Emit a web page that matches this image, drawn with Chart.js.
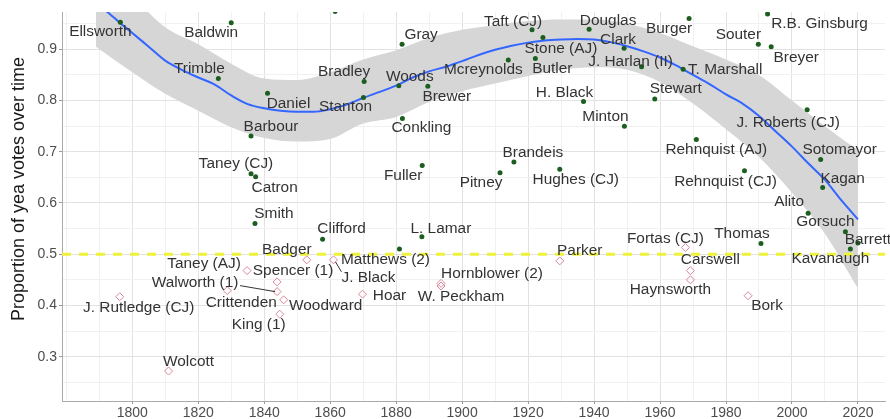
<!DOCTYPE html>
<html>
<head>
<meta charset="utf-8">
<script src="https://cdn.jsdelivr.net/npm/chart.js@4.4.1/dist/chart.umd.min.js"></script>
<style>
  html, body { margin: 0; padding: 0; background: #fff; }
  #wrap { width: 890px; height: 419px; }
</style>
</head>
<body>
<div id="wrap"><canvas id="chart"></canvas></div>
<script>
// confirmed nominees (green dots)
const confirmedNames = ['Ellsworth', 'Baldwin', 'Trimble', 'Daniel', 'Barbour', 'Taney (CJ)', 'Catron', 'Smith',
  'Clifford', '', 'Stanton', 'Bradley', 'Woods', 'Matthews (2)', 'Gray', 'Conkling', 'Fuller', 'L. Lamar', 'Brewer',
  'Pitney', 'Mcreynolds', 'Brandeis', 'Taft (CJ)', 'Butler', 'Stone (AJ)', 'Hughes (CJ)', 'H. Black', 'Douglas',
  'Clark', 'Minton', 'J. Harlan (II)', 'Stewart', 'T. Marshall', 'Burger', 'Rehnquist (AJ)', 'Rehnquist (CJ)',
  'Souter', 'Thomas', 'R.B. Ginsburg', 'Breyer', 'J. Roberts (CJ)', 'Alito', 'Sotomayor', 'Kagan', 'Gorsuch',
  'Barrett', 'Kavanaugh'];
const confirmedYears = [1796.4, 1830.0, 1826.1, 1841.0, 1836.0, 1836.0, 1837.4, 1837.2,
  1857.7, 1861.5, 1870.1, 1870.3, 1880.8, 1881.0, 1881.8, 1881.9, 1887.9, 1887.8, 1889.6,
  1911.5, 1914.0, 1915.7, 1921.2, 1922.2, 1924.5, 1929.6, 1936.8, 1938.5,
  1949.1, 1949.2, 1954.4, 1958.4, 1967.0, 1968.8, 1971.0, 1985.6,
  1989.8, 1990.6, 1992.6, 1993.7, 2004.6, 2004.9, 2008.7, 2009.3, 2016.2,
  2020.0, 2017.7];
const confirmedVotes = [0.953, 0.952, 0.843, 0.814, 0.731, 0.657, 0.651, 0.560,
  0.529, 0.974, 0.806, 0.837, 0.829, 0.510, 0.910, 0.765, 0.673, 0.534, 0.828,
  0.659, 0.879, 0.680, 0.938, 0.882, 0.923, 0.666, 0.798, 0.939,
  0.902, 0.750, 0.866, 0.803, 0.861, 0.960, 0.724, 0.663,
  0.910, 0.521, 0.969, 0.905, 0.782, 0.580, 0.685, 0.630, 0.544,
  0.522, 0.510];

// rejected / failed nominees (pink diamonds)
const rejectedNames = ['J. Rutledge (CJ)', 'Wolcott', 'Crittenden', 'Taney (AJ)', 'Spencer (1)', 'Walworth (1)',
  'King (1)', 'Woodward', 'Badger', 'J. Black', 'Hoar', 'Hornblower (2)', 'W. Peckham', 'Parker', 'Fortas (CJ)',
  'Haynsworth', 'Carswell', 'Bork'];
const rejectedYears = [1796.2, 1811.0, 1828.8, 1834.8, 1843.9, 1843.9,
  1844.7, 1845.9, 1852.9, 1861.0, 1869.8, 1893.6, 1893.6, 1929.6, 1967.7,
  1969.2, 1969.2, 1986.7];
const rejectedVotes = [0.417, 0.272, 0.429, 0.468, 0.446, 0.427,
  0.383, 0.411, 0.489, 0.489, 0.422, 0.443, 0.438, 0.487, 0.513,
  0.450, 0.468, 0.419];

// smoothed trend and its confidence band
const fitYears = [1789, 1793, 1796, 1800, 1805, 1810, 1815, 1820, 1825, 1830, 1835, 1840, 1845, 1850, 1855,
  1860, 1865, 1870, 1875, 1880, 1885, 1890, 1895, 1900, 1905, 1910, 1915, 1920, 1925, 1930, 1935, 1940,
  1945, 1950, 1955, 1960, 1965, 1970, 1975, 1980, 1985, 1990, 1995, 2000, 2005, 2010, 2015, 2020];
const fitValues = [0.990, 0.970, 0.953, 0.932, 0.905, 0.878, 0.860, 0.845, 0.831, 0.810, 0.793, 0.785, 0.780,
  0.778, 0.778, 0.783, 0.792, 0.805, 0.817, 0.829, 0.845, 0.857, 0.866, 0.877, 0.889, 0.899, 0.907, 0.913,
  0.917, 0.919, 0.920, 0.919, 0.914, 0.906, 0.896, 0.884, 0.868, 0.850, 0.832, 0.812, 0.794, 0.770, 0.740,
  0.710, 0.677, 0.645, 0.605, 0.568];
const bandYears = [1789, 1800, 1810, 1820, 1830, 1840, 1850, 1860, 1870, 1880, 1890, 1900, 1910, 1920, 1930,
  1940, 1950, 1960, 1970, 1980, 1990, 2000, 2010, 2020];
const bandLow = [0.905, 0.855, 0.813, 0.780, 0.748, 0.727, 0.720, 0.725, 0.755, 0.768, 0.797, 0.818, 0.833,
  0.848, 0.860, 0.865, 0.860, 0.836, 0.794, 0.744, 0.690, 0.620, 0.540, 0.433];
const bandHigh = [1.075, 1.004, 0.943, 0.910, 0.872, 0.843, 0.840, 0.855, 0.880, 0.898, 0.922, 0.938, 0.947,
  0.955, 0.958, 0.958, 0.950, 0.932, 0.906, 0.880, 0.850, 0.800, 0.750, 0.703];

const threshold = 0.5;

// axes
const xRange = [1778.7, 2028.2];
const yRange = [0.2135, 0.9728];
const xGridYears = [1780, 1790, 1800, 1810, 1820, 1830, 1840, 1850, 1860, 1870, 1880, 1890, 1900, 1910, 1920,
  1930, 1940, 1950, 1960, 1970, 1980, 1990, 2000, 2010, 2020];
const xTickYears = [1800, 1820, 1840, 1860, 1880, 1900, 1920, 1940, 1960, 1980, 2000, 2020];
const yGridValues = [0.25, 0.3, 0.35, 0.4, 0.45, 0.5, 0.55, 0.6, 0.65, 0.7, 0.75, 0.8, 0.85, 0.9, 0.95];
const yTickValues = [0.3, 0.4, 0.5, 0.6, 0.7, 0.8, 0.9];

// where each name sits relative to its point (px)
const labelOffsets = {
  'Ellsworth': [-20, 10], 'Baldwin': [-20, 10], 'Trimble': [-19, -9], 'Daniel': [21, 11],
  'Barbour': [20, -9], 'Taney (CJ)': [-15, -10], 'Catron': [19, 11], 'Smith': [19, -9],
  'Clifford': [19, -10], 'Stanton': [-18, 10], 'Bradley': [-20, -9], 'Woods': [11, -9],
  'Matthews (2)': [-14, 11], 'Gray': [19, -9], 'Conkling': [19, 10], 'Fuller': [-19, 11],
  'L. Lamar': [19, -8], 'Brewer': [19, 11], 'Pitney': [-19, 10], 'Mcreynolds': [-25, 10],
  'Brandeis': [19, -9], 'Taft (CJ)': [-19, -8], 'Butler': [17, 11], 'Stone (AJ)': [18, 12],
  'Hughes (CJ)': [16, 11], 'H. Black': [-19, -8], 'Douglas': [19, -8], 'Clark': [-6, -8],
  'Minton': [-19, -9], 'J. Harlan (II)': [-11, -5], 'Stewart': [21, -10], 'T. Marshall': [42, 1],
  'Burger': [-20, 11], 'Rehnquist (AJ)': [20, 11], 'Rehnquist (CJ)': [-19, 11], 'Souter': [-20, -9],
  'Thomas': [-19, -9], 'R.B. Ginsburg': [52, 10], 'Breyer': [25, 11], 'J. Roberts (CJ)': [-19, 13],
  'Alito': [-19, -11], 'Sotomayor': [19, -9], 'Kagan': [20, -8], 'Gorsuch': [-20, -10],
  'Barrett': [10, -3], 'Kavanaugh': [-20, 10],
  'J. Rutledge (CJ)': [19, 11], 'Wolcott': [20, -9], 'Crittenden': [14, 13], 'Taney (AJ)': [-43, -6],
  'Spencer (1)': [16, -11], 'Walworth (1)': [-82, -8], 'King (1)': [-21, 11], 'Woodward': [42, 6],
  'Badger': [-20, -10], 'J. Black': [35, 18], 'Hoar': [27, 2], 'Hornblower (2)': [51, -9],
  'W. Peckham': [20, 11], 'Parker': [20, -10], 'Fortas (CJ)': [-20, -8], 'Haynsworth': [-20, 10],
  'Carswell': [20, -10], 'Bork': [19, 10]
};
// short connector segments (from, to) relative to the point
const leaders = {
  'Walworth (1)': [-37, -6, -2, 0],
  'J. Black': [8, 12, 2, 2]
};

const toPoints = (xs, ys) => xs.map((v, i) => ({ x: v, y: ys[i] }));

const labelPlugin = {
  id: 'nomineeLabels',
  afterDatasetsDraw(chart) {
    const { ctx, scales: { x, y } } = chart;
    ctx.save();
    ctx.font = '14px "Liberation Sans", Arial, sans-serif';
    ctx.fillStyle = '#333';
    ctx.strokeStyle = '#333';
    ctx.lineWidth = 1;
    ctx.textAlign = 'center';
    ctx.textBaseline = 'middle';
    const draw = (names, years, votes) => {
      names.forEach((name, i) => {
        if (!name) return;
        const px = x.getPixelForValue(years[i]);
        const py = y.getPixelForValue(votes[i]);
        const off = labelOffsets[name] || [0, -10];
        const lead = leaders[name];
        if (lead) {
          ctx.beginPath();
          ctx.moveTo(px + lead[0], py + lead[1]);
          ctx.lineTo(px + lead[2], py + lead[3]);
          ctx.stroke();
        }
        ctx.save();
        ctx.translate(px + off[0], py + off[1]);
        ctx.scale(1.1, 1);
        ctx.fillText(name, 0, 0);
        ctx.restore();
      });
    };
    draw(confirmedNames, confirmedYears, confirmedVotes);
    draw(rejectedNames, rejectedYears, rejectedVotes);
    ctx.restore();

    // y axis title
    const area = chart.chartArea;
    ctx.save();
    ctx.translate(19.5, area.top + (area.bottom - area.top) * 0.455);
    ctx.rotate(-Math.PI / 2);
    ctx.font = '18px "Liberation Sans", Arial, sans-serif';
    ctx.fillStyle = '#1a1a1a';
    ctx.textAlign = 'center';
    ctx.textBaseline = 'middle';
    ctx.fillText('Proportion of yea votes over time', 0, 0);
    ctx.restore();
  }
};

const gridColor = (list) => (c) => (c.tick && list.includes(c.tick.value) ? '#e2e2e2' : '#f1f1f1');

new Chart(document.getElementById('chart'), {
  type: 'scatter',
  data: {
    datasets: [{
      label: 'Confirmed',
      data: toPoints(confirmedYears, confirmedVotes),
      backgroundColor: '#1b5e20',
      borderColor: '#1b5e20',
      pointRadius: 2.5,
      borderWidth: 0,
      order: 0
    }, {
      label: 'Rejected',
      data: toPoints(rejectedYears, rejectedVotes),
      pointStyle: 'rectRot',
      backgroundColor: 'rgba(0,0,0,0)',
      borderColor: '#d9879a',
      pointRadius: 4,
      borderWidth: 1,
      order: 0
    }, {
      label: 'Threshold',
      data: [{ x: xRange[0], y: threshold }, { x: xRange[1], y: threshold }],
      showLine: true,
      borderColor: '#eef23a',
      borderWidth: 3,
      borderDash: [9, 8],
      pointRadius: 0,
      order: 1
    }, {
      label: 'Trend',
      data: toPoints(fitYears, fitValues),
      showLine: true,
      borderColor: '#3366ff',
      borderWidth: 2,
      pointRadius: 0,
      cubicInterpolationMode: 'monotone',
      order: 2
    }, {
      label: 'Band low',
      data: toPoints(bandYears, bandLow),
      showLine: true,
      borderWidth: 0,
      borderColor: 'rgba(0,0,0,0)',
      pointRadius: 0,
      cubicInterpolationMode: 'monotone',
      order: 3
    }, {
      label: 'Band high',
      data: toPoints(bandYears, bandHigh),
      showLine: true,
      borderWidth: 0,
      borderColor: 'rgba(0,0,0,0)',
      backgroundColor: '#d6d6d6',
      fill: '-1',
      pointRadius: 0,
      cubicInterpolationMode: 'monotone',
      order: 3
    }]
  },
  options: {
    responsive: true,
    maintainAspectRatio: false,
    animation: false,
    layout: { padding: { top: 12, right: 0, left: 0, bottom: 0 } },
    plugins: {
      legend: { display: false },
      tooltip: { enabled: false }
    },
    scales: {
      x: {
        type: 'linear',
        min: xRange[0],
        max: xRange[1],
        afterBuildTicks: (scale) => { scale.ticks = xGridYears.map(v => ({ value: v })); },
        afterFit: (scale) => { scale.height = 18; },
        grid: {
          color: gridColor(xTickYears),
          tickColor: (c) => (c.tick && xTickYears.includes(c.tick.value) ? '#999' : 'rgba(0,0,0,0)'),
          tickLength: 3
        },
        border: { display: true, color: '#aaa', width: 1 },
        ticks: {
          padding: 1,
          color: '#4d4d4d',
          font: { family: '"Liberation Sans", Arial, sans-serif', size: 14 },
          maxRotation: 0,
          autoSkip: false,
          callback: (v) => (xTickYears.includes(v) ? String(v) : '')
        }
      },
      y: {
        min: yRange[0],
        max: yRange[1],
        afterBuildTicks: (scale) => { scale.ticks = yGridValues.map(v => ({ value: v })); },
        afterFit: (scale) => { scale.width = 62; },
        grid: {
          color: gridColor(yTickValues),
          tickColor: (c) => (c.tick && yTickValues.includes(c.tick.value) ? '#999' : 'rgba(0,0,0,0)'),
          tickLength: 3
        },
        border: { display: true, color: '#aaa', width: 1 },
        ticks: {
          padding: 2,
          color: '#4d4d4d',
          font: { family: '"Liberation Sans", Arial, sans-serif', size: 14 },
          autoSkip: false,
          callback: (v) => (yTickValues.includes(v) ? v.toFixed(1) : '')
        }
      }
    }
  },
  plugins: [labelPlugin]
});
</script>
</body>
</html>
